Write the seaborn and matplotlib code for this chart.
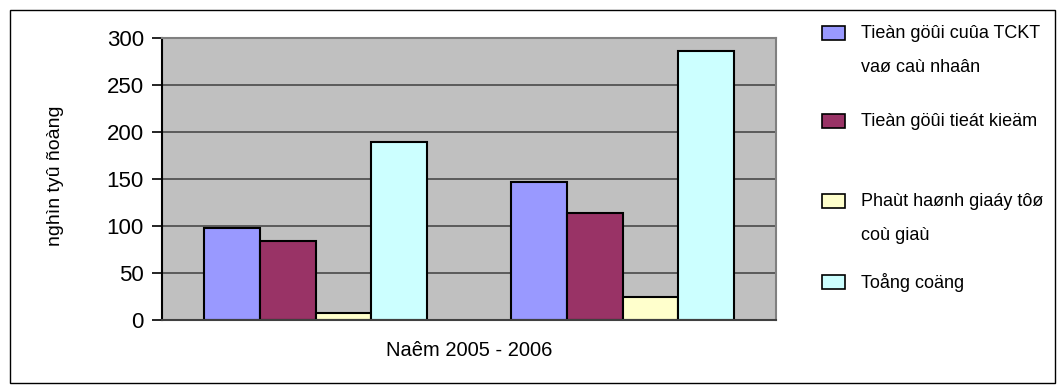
import matplotlib
matplotlib.use("Agg")
import matplotlib.pyplot as plt
from matplotlib.patches import Rectangle
import seaborn as sns
import pandas as pd

# Data (nghìn tyû ñoàng)
years = ["2005", "2006"]
series = [
    "Tieàn göûi cuûa TCKT\nvaø caù nhaân",
    "Tieàn göûi tieát kieäm",
    "Phaùt haønh giaáy tôø\ncoù giaù",
    "Toång coäng",
]
tien_gui_tckt = [98, 147]
tien_gui_tiet_kiem = [84, 114]
phat_hanh_giay_to = [7, 24]
tong_cong = [189, 286]
colors = ["#9999FF", "#993366", "#FFFFCC", "#CCFFFF"]
y_ticks = [0, 50, 100, 150, 200, 250, 300]

rows = []
for name, vals in zip(series, [tien_gui_tckt, tien_gui_tiet_kiem, phat_hanh_giay_to, tong_cong]):
    for yr, v in zip(years, vals):
        rows.append({"year": yr, "series": name, "value": v})
df = pd.DataFrame(rows)

sns.set_theme(style="white")
plt.rcParams["font.family"] = ["Liberation Sans", "DejaVu Sans"]

W, H = 1058, 387
fig = plt.figure(figsize=(W / 100, H / 100), dpi=100)
fig.patch.set_facecolor("white")
ax = fig.add_axes([162 / W, 1 - 320 / H, 614 / W, 282 / H])
ax.set_facecolor("#C0C0C0")

sns.barplot(
    data=df, x="year", y="value", hue="series", hue_order=series,
    palette=colors, saturation=1, edgecolor="black", linewidth=1.5,
    width=0.727, gap=0, legend=False, ax=ax,
)

ax.set_xlim(-0.5, 1.5)
ax.set_ylim(0, 300)
ax.set_yticks(y_ticks)
ax.set_xticks([])
ax.yaxis.grid(True, color="#4a4a4a", linewidth=1.2)
ax.set_axisbelow(True)
ax.tick_params(axis="y", left=True, length=7, width=1.2, color="black",
               pad=6, labelsize=16, labelcolor="black")

for side in ["top", "right"]:
    ax.spines[side].set_color("#808080")
    ax.spines[side].set_linewidth(1.5)
ax.spines["left"].set_color("black")
ax.spines["left"].set_linewidth(1.5)
ax.spines["bottom"].set_color("#404040")
ax.spines["bottom"].set_linewidth(1.5)

ax.set_xlabel("Naêm 2005 - 2006", fontsize=14.5, color="black", va="center")
ax.xaxis.set_label_coords(0.5, -0.109)
ax.set_ylabel("nghìn tyû ñoàng", fontsize=14, color="black", va="center")
ax.yaxis.set_label_coords(-0.173, 0.51)

# Legend drawn at the right of the plot area
legend_rows = [33, 121, 201, 282]
line_gap = 35
for name, col, yc in zip(series, colors, legend_rows):
    fig.add_artist(Rectangle((822 / W, 1 - (yc + 7) / H), 23 / W, 14 / H,
                             transform=fig.transFigure, facecolor=col,
                             edgecolor="black", linewidth=1.2))
    for i, line in enumerate(name.split("\n")):
        fig.text(861 / W, 1 - (yc + i * line_gap) / H, line, fontsize=13,
                 color="black", ha="left", va="center")

# Outer chart frame
fig.add_artist(Rectangle((10 / W, 4 / H), 1045 / W, 373 / H,
                         transform=fig.transFigure, fill=False,
                         edgecolor="black", linewidth=1))

fig.savefig("out.png", dpi=100)
